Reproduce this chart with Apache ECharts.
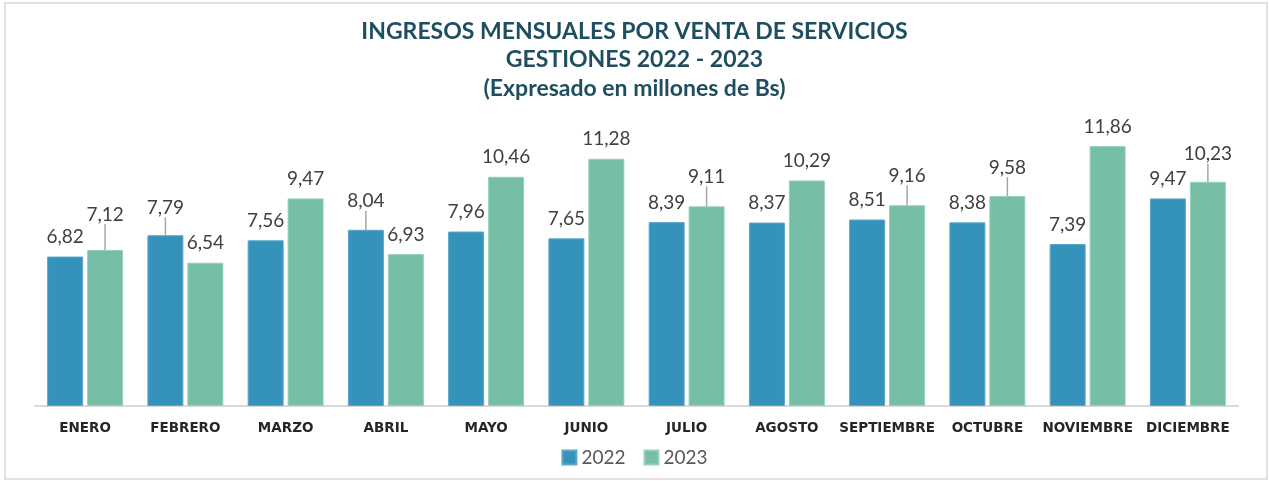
<!DOCTYPE html>
<html>
<head>
<meta charset="utf-8">
<script src="https://cdn.jsdelivr.net/npm/echarts@6/dist/echarts.min.js"></script>
<style>
  html, body { margin: 0; padding: 0; background: #fff; }
  #chart { width: 1269px; height: 481px; }
</style>
</head>
<body>
<div id="chart"></div>
<script>
// datos
var meses = ['ENERO', 'FEBRERO', 'MARZO', 'ABRIL', 'MAYO', 'JUNIO', 'JULIO', 'AGOSTO', 'SEPTIEMBRE', 'OCTUBRE', 'NOVIEMBRE', 'DICIEMBRE']
var gestiones = ['2022', '2023']
var valores2022 = [6.82, 7.79, 7.56, 8.04, 7.96, 7.65, 8.39, 8.37, 8.51, 8.38, 7.39, 9.47]
var valores2023 = [7.12, 6.54, 9.47, 6.93, 10.46, 11.28, 9.11, 10.29, 9.16, 9.58, 11.86, 10.23]

// etiquetas que van elevadas con linea guia (indice -> px)
var subir2022 = { 1: 8, 3: 9 }
var subir2023 = { 0: 16, 6: 10, 8: 10, 9: 9, 11: 8 }

function armarDatos (valores, subir) {
  return valores.map(function (v, i) {
    var item = { value: v }
    if (subir[i]) {
      item.labelLine = { show: true }
    }
    return item
  })
}

function formato (p) {
  return p.value.toFixed(2).replace('.', ',')
}

var chart = echarts.init(document.getElementById('chart'))

function serie (nombre, valores, subir, color, borde) {
  return {
    name: nombre,
    type: 'bar',
    barWidth: 36,
    barGap: '11%',
    data: armarDatos(valores, subir),
    itemStyle: { color: color, borderColor: borde, borderWidth: 1 },
    label: {
      show: true,
      position: 'top',
      distance: 10,
      formatter: formato,
      fontFamily: 'Lato',
      fontSize: 19,
      color: '#404040'
    },
    labelLine: {
      show: false,
      lineStyle: { color: '#a6a6a6', width: 1.5 }
    },
    labelLayout: function (params) {
      var dy = subir[params.dataIndex]
      return dy ? { dy: -dy } : {}
    }
  }
}

chart.setOption({
  animation: false,
  title: {
    text: 'INGRESOS MENSUALES POR VENTA DE SERVICIOS\nGESTIONES 2022 - 2023\n(Expresado en millones de Bs)',
    left: 'center',
    top: 12,
    textStyle: {
      fontFamily: 'Lato',
      fontWeight: 'bold',
      fontSize: 23,
      lineHeight: 28.5,
      color: '#1f4e5f'
    }
  },
  legend: {
    data: gestiones,
    left: 'center',
    top: 443,
    icon: 'rect',
    itemWidth: 14,
    itemHeight: 14,
    itemGap: 18,
    textStyle: { fontFamily: 'Lato', fontSize: 19, color: '#595959' }
  },
  graphic: [{
    type: 'rect',
    shape: { x: 5, y: 3, width: 1262, height: 476 },
    style: { fill: 'none', stroke: '#d9d9d9', lineWidth: 1.5 },
    silent: true
  }],
  grid: { left: 35, right: 31, top: 143, bottom: 75 },
  xAxis: {
    type: 'category',
    data: meses,
    axisTick: { show: false },
    axisLine: { lineStyle: { color: '#d9d9d9', width: 2 } },
    axisLabel: {
      interval: 0,
      margin: 15,
      fontFamily: 'DejaVu Sans',
      fontWeight: 'bold',
      fontSize: 13.5,
      color: '#262626'
    }
  },
  yAxis: {
    type: 'value',
    min: 0,
    max: 12,
    show: false,
    splitLine: { show: false }
  },
  series: [
    serie('2022', valores2022, subir2022, '#3592bb', '#5aa8cb'),
    serie('2023', valores2023, subir2023, '#76bea6', '#98d0bd')
  ]
})
</script>
</body>
</html>
